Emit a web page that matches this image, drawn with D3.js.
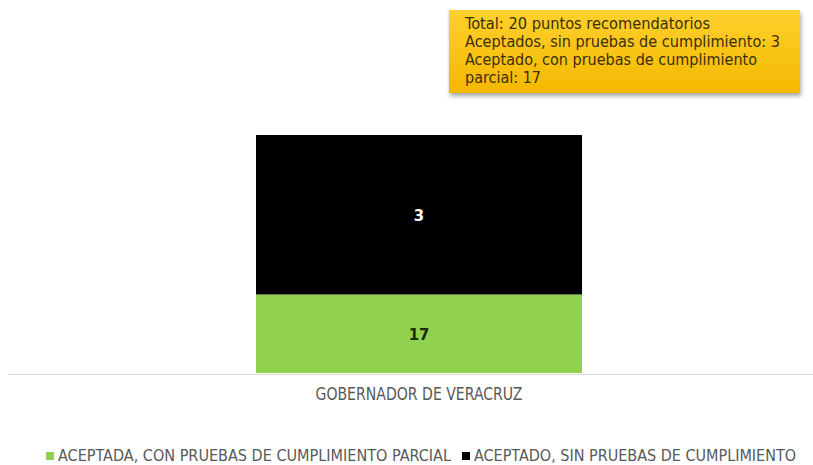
<!DOCTYPE html>
<html><head><meta charset="utf-8">
<script src="https://cdn.jsdelivr.net/npm/d3@7"></script>
<style>body{margin:0;background:#fff}svg{display:block}</style>
</head><body><svg id="c" width="813" height="465"></svg>
<script>
const categories = ["GOBERNADOR DE VERACRUZ"];
const seriesNames = ["ACEPTADA, CON PRUEBAS DE CUMPLIMIENTO PARCIAL", "ACEPTADO, SIN PRUEBAS DE CUMPLIMIENTO"];
const seriesLabels = [17, 3];
// drawn share of the bar (bottom, top)
const seriesShare = [0.33, 0.67];
const seriesColors = ["#92d050", "#000000"];
const labelColors = ["#1a2a0a", "#ffffff"];
const noteLines = ["Total: 20 puntos recomendatorios", "Aceptados, sin pruebas de cumplimiento: 3", "Aceptado, con pruebas de cumplimiento", "parcial: 17"];

// layout
const font = "'DejaVu Sans Condensed', Tahoma, sans-serif";
const noteWidths = [245, 315, 292, 76];
const legendWidths = [393, 322];
const catWidth = 207;

const svg = d3.select("#c");
const x = d3.scaleBand().domain(categories).range([8, 830]).paddingInner(0.2).paddingOuter(0.3);
const y = d3.scaleLinear().domain([0, 1]).range([373, 135]);

const rows = categories.map(c => { const o = {cat: c}; seriesNames.forEach((s, i) => o[s] = seriesShare[i]); return o; });
const stack = d3.stack().keys(seriesNames)(rows);

const bw = 326;
stack.forEach((layer, i) => {
  layer.forEach(d => {
    const cx = x(d.data.cat) + x.bandwidth() / 2;
    svg.append("rect").attr("x", cx - bw / 2).attr("width", bw)
      .attr("y", y(d[1])).attr("height", y(d[0]) - y(d[1])).attr("fill", seriesColors[i]);
    svg.append("text").attr("x", cx).attr("y", (y(d[0]) + y(d[1])) / 2 + 6)
      .attr("text-anchor", "middle").attr("font-family", font).attr("font-weight", "bold")
      .attr("font-size", 16.5).attr("fill", labelColors[i]).text(seriesLabels[i]);
  });
});

// axis
svg.append("line").attr("x1", 8).attr("x2", 813).attr("y1", 374.5).attr("y2", 374.5).attr("stroke", "#d9d9d9");
categories.forEach(c => {
  svg.append("text").attr("x", x(c) + x.bandwidth() / 2).attr("y", 400).attr("text-anchor", "middle")
    .attr("font-family", font).attr("font-size", 17).attr("fill", "#595959")
    .attr("textLength", catWidth).attr("lengthAdjust", "spacingAndGlyphs").text(c);
});

// legend
const legX = [46, 462];
seriesNames.forEach((s, i) => {
  svg.append("rect").attr("x", legX[i]).attr("y", 452).attr("width", 8).attr("height", 8).attr("fill", seriesColors[i]);
  svg.append("text").attr("x", legX[i] + 12).attr("y", 461).attr("font-family", font).attr("font-size", 16)
    .attr("fill", "#595959").attr("textLength", legendWidths[i]).attr("lengthAdjust", "spacingAndGlyphs").text(s);
});

// note box
const defs = svg.append("defs");
const g = defs.append("linearGradient").attr("id", "yg").attr("x1", 0).attr("y1", 0).attr("x2", 0).attr("y2", 1);
g.append("stop").attr("offset", "0").attr("stop-color", "#ffd02e");
g.append("stop").attr("offset", "1").attr("stop-color", "#f4b800");
const f = defs.append("filter").attr("id", "sh").attr("x", "-10%").attr("y", "-20%").attr("width", "120%").attr("height", "150%");
f.append("feDropShadow").attr("dx", 1).attr("dy", 3).attr("stdDeviation", 2).attr("flood-color", "#000").attr("flood-opacity", 0.35);
svg.append("rect").attr("x", 449).attr("y", 10).attr("width", 351).attr("height", 83).attr("fill", "url(#yg)").attr("filter", "url(#sh)");
noteLines.forEach((t, i) => {
  svg.append("text").attr("x", 465).attr("y", 29 + i * 18.1).attr("font-family", font).attr("font-size", 15.5)
    .attr("fill", "#3b2f0c").attr("textLength", noteWidths[i]).attr("lengthAdjust", "spacingAndGlyphs").text(t);
});
</script></body></html>
